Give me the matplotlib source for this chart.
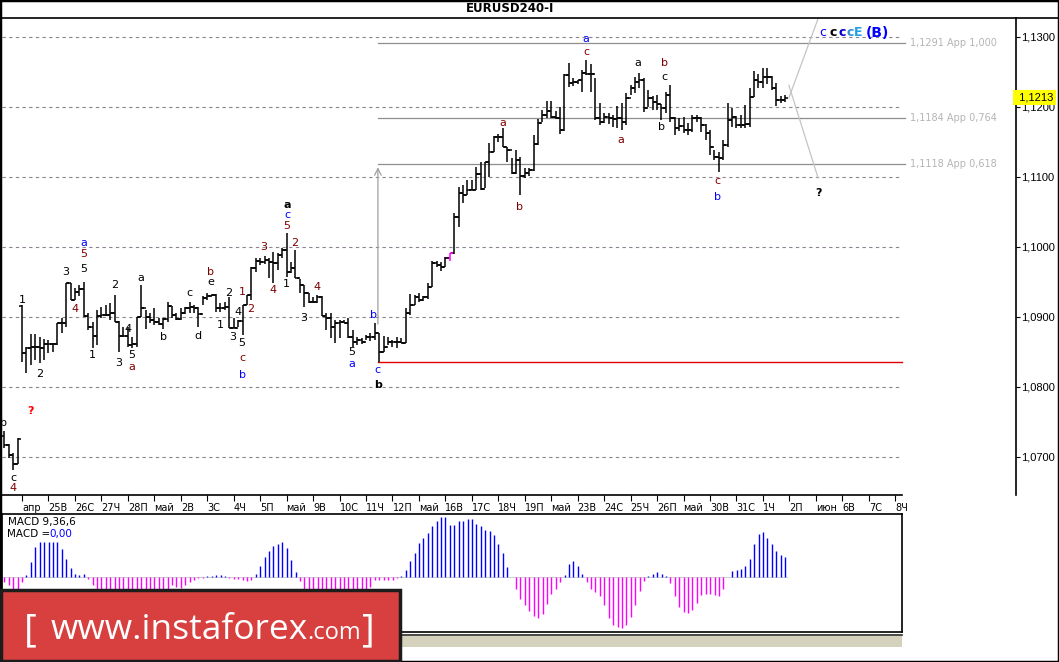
import numpy as np
import matplotlib.pyplot as plt
from matplotlib.patches import Rectangle
from matplotlib.lines import Line2D

# EURUSD H4 bars (high, low, close), left to right
highs = [1.0737, 1.0719, 1.0706, 1.0727, 1.0917, 1.0857, 1.0876, 1.0876, 1.0871, 1.0869,
         1.0867, 1.0863, 1.0891, 1.0899, 1.0949, 1.0949, 1.0941, 1.0946, 1.0950, 1.0906,
         1.0893, 1.0910, 1.0914, 1.0917, 1.0920, 1.0931, 1.0894, 1.0886, 1.0886, 1.0871,
         1.0900, 1.0946, 1.0910, 1.0906, 1.0913, 1.0899, 1.0899, 1.0921, 1.0916, 1.0906,
         1.0913, 1.0914, 1.0921, 1.0917, 1.0914, 1.0930, 1.0934, 1.0933, 1.0933, 1.0920,
         1.0921, 1.0929, 1.0899, 1.0896, 1.0917, 1.0931, 1.0971, 1.0984, 1.0984, 1.0987,
         1.0984, 1.0993, 1.0991, 1.0999, 1.1020, 1.0979, 1.0996, 1.0954, 1.0946, 1.0934,
         1.0929, 1.0931, 1.0930, 1.0906, 1.0906, 1.0896, 1.0896, 1.0896, 1.0899, 1.0881,
         1.0871, 1.0870, 1.0874, 1.0877, 1.0891, 1.0877, 1.0873, 1.0871, 1.0867, 1.0871,
         1.0870, 1.0913, 1.0933, 1.0931, 1.0934, 1.0930, 1.0949, 1.0980, 1.0980, 1.0979,
         1.0986, 1.0991, 1.1049, 1.1086, 1.1089, 1.1096, 1.1096, 1.1114, 1.1121, 1.1121,
         1.1149, 1.1159, 1.1161, 1.1170, 1.1143, 1.1127, 1.1139, 1.1129, 1.1113, 1.1113,
         1.1160, 1.1183, 1.1196, 1.1209, 1.1209, 1.1194, 1.1200, 1.1247, 1.1263, 1.1241,
         1.1239, 1.1253, 1.1267, 1.1261, 1.1241, 1.1206, 1.1191, 1.1191, 1.1189, 1.1201,
         1.1206, 1.1220, 1.1231, 1.1243, 1.1249, 1.1241, 1.1224, 1.1216, 1.1217, 1.1204,
         1.1221, 1.1231, 1.1186, 1.1184, 1.1186, 1.1177, 1.1189, 1.1189, 1.1186, 1.1176,
         1.1167, 1.1139, 1.1136, 1.1153, 1.1206, 1.1199, 1.1187, 1.1189, 1.1203, 1.1227,
         1.1251, 1.1247, 1.1256, 1.1256, 1.1244, 1.1234, 1.1216, 1.1217]
lows = [1.0713, 1.0699, 1.0681, 1.0690, 1.0836, 1.0820, 1.0831, 1.0839, 1.0834, 1.0839,
        1.0849, 1.0850, 1.0860, 1.0877, 1.0886, 1.0924, 1.0924, 1.0930, 1.0900, 1.0881,
        1.0856, 1.0860, 1.0899, 1.0901, 1.0896, 1.0893, 1.0850, 1.0871, 1.0857, 1.0856,
        1.0857, 1.0900, 1.0883, 1.0891, 1.0889, 1.0889, 1.0883, 1.0893, 1.0899, 1.0896,
        1.0896, 1.0904, 1.0906, 1.0906, 1.0886, 1.0917, 1.0924, 1.0930, 1.0907, 1.0907,
        1.0910, 1.0884, 1.0884, 1.0886, 1.0874, 1.0917, 1.0924, 1.0964, 1.0974, 1.0976,
        1.0956, 1.0949, 1.0967, 1.0984, 1.0957, 1.0963, 1.0956, 1.0934, 1.0914, 1.0920,
        1.0920, 1.0920, 1.0901, 1.0881, 1.0870, 1.0863, 1.0870, 1.0891, 1.0870, 1.0857,
        1.0860, 1.0861, 1.0867, 1.0866, 1.0867, 1.0836, 1.0850, 1.0860, 1.0857, 1.0856,
        1.0863, 1.0863, 1.0903, 1.0917, 1.0921, 1.0923, 1.0926, 1.0943, 1.0971, 1.0966,
        1.0971, 1.0980, 1.0990, 1.1029, 1.1063, 1.1074, 1.1081, 1.1081, 1.1081, 1.1084,
        1.1100, 1.1136, 1.1150, 1.1143, 1.1121, 1.1104, 1.1104, 1.1074, 1.1099, 1.1101,
        1.1109, 1.1146, 1.1179, 1.1184, 1.1184, 1.1183, 1.1161, 1.1166, 1.1229, 1.1230,
        1.1233, 1.1221, 1.1246, 1.1221, 1.1181, 1.1174, 1.1177, 1.1176, 1.1171, 1.1170,
        1.1167, 1.1174, 1.1217, 1.1220, 1.1227, 1.1193, 1.1200, 1.1196, 1.1196, 1.1181,
        1.1191, 1.1179, 1.1160, 1.1166, 1.1163, 1.1160, 1.1164, 1.1179, 1.1164, 1.1153,
        1.1131, 1.1124, 1.1107, 1.1124, 1.1143, 1.1171, 1.1170, 1.1170, 1.1170, 1.1171,
        1.1214, 1.1227, 1.1227, 1.1233, 1.1224, 1.1201, 1.1206, 1.1207]
closes = [1.0717, 1.0703, 1.0690, 1.0725, 1.0849, 1.0856, 1.0857, 1.0857, 1.0856, 1.0861,
          1.0861, 1.0861, 1.0891, 1.0891, 1.0949, 1.0924, 1.0936, 1.0940, 1.0901, 1.0886,
          1.0873, 1.0901, 1.0903, 1.0903, 1.0906, 1.0893, 1.0873, 1.0873, 1.0860, 1.0861,
          1.0900, 1.0913, 1.0900, 1.0896, 1.0893, 1.0890, 1.0897, 1.0916, 1.0903, 1.0897,
          1.0906, 1.0913, 1.0914, 1.0913, 1.0904, 1.0927, 1.0930, 1.0931, 1.0913, 1.0913,
          1.0914, 1.0884, 1.0884, 1.0894, 1.0917, 1.0931, 1.0970, 1.0980, 1.0979, 1.0981,
          1.0979, 1.0977, 1.0989, 1.0996, 1.0964, 1.0970, 1.0956, 1.0946, 1.0934, 1.0921,
          1.0921, 1.0929, 1.0901, 1.0899, 1.0886, 1.0891, 1.0893, 1.0891, 1.0871, 1.0864,
          1.0867, 1.0864, 1.0871, 1.0871, 1.0877, 1.0850, 1.0857, 1.0864, 1.0864, 1.0864,
          1.0863, 1.0906, 1.0917, 1.0929, 1.0924, 1.0929, 1.0943, 1.0977, 1.0974, 1.0971,
          1.0984, 1.0991, 1.1043, 1.1077, 1.1074, 1.1081, 1.1081, 1.1104, 1.1083, 1.1121,
          1.1136, 1.1157, 1.1157, 1.1143, 1.1139, 1.1106, 1.1124, 1.1101, 1.1106, 1.1110,
          1.1147, 1.1177, 1.1189, 1.1194, 1.1186, 1.1184, 1.1167, 1.1246, 1.1234, 1.1236,
          1.1239, 1.1249, 1.1247, 1.1247, 1.1184, 1.1179, 1.1186, 1.1184, 1.1183, 1.1184,
          1.1179, 1.1213, 1.1227, 1.1236, 1.1239, 1.1199, 1.1213, 1.1207, 1.1204, 1.1199,
          1.1217, 1.1184, 1.1170, 1.1173, 1.1167, 1.1167, 1.1184, 1.1184, 1.1174, 1.1163,
          1.1143, 1.1129, 1.1127, 1.1146, 1.1181, 1.1186, 1.1174, 1.1174, 1.1176, 1.1214,
          1.1239, 1.1236, 1.1243, 1.1243, 1.1227, 1.1210, 1.1210, 1.1213]
first_open = 1.0730
gap_bar = 4
gap_open = 1.0916
magenta_bar = 101

macd = [-0.0005, -0.0008, -0.0013, -0.0013, -0.0005, 0.0002, 0.0015, 0.0030, 0.0035, 0.0035,
        0.0035, 0.0035, 0.0035, 0.0028, 0.0018, 0.0009, 0.0003, 0.0002, 0.0003, -0.0002,
        -0.0008, -0.0020, -0.0025, -0.0028, -0.0030, -0.0030, -0.0028, -0.0027, -0.0026, -0.0024,
        -0.0022, -0.0020, -0.0018, -0.0017, -0.0016, -0.0016, -0.0015, -0.0014, -0.0008, -0.0010,
        -0.0011, -0.0008, -0.0005, -0.0003, -0.0001, -0.0001, 0.0001, 0.0001, 0.0002, 0.0002,
        0.0001, -0.0001, -0.0002, -0.0002, -0.0003, -0.0004, -0.0003, 0.0003, 0.0011, 0.0020,
        0.0026, 0.0031, 0.0033, 0.0035, 0.0029, 0.0017, 0.0005, -0.0004, -0.0015, -0.0020,
        -0.0024, -0.0026, -0.0027, -0.0027, -0.0027, -0.0028, -0.0029, -0.0029, -0.0028, -0.0026,
        -0.0024, -0.0021, -0.0017, -0.0010, -0.0003, -0.0003, -0.0003, -0.0003, -0.0003, -0.0001,
        0.0001, 0.0007, 0.0016, 0.0024, 0.0034, 0.0039, 0.0044, 0.0051, 0.0056, 0.0060,
        0.0060, 0.0052, 0.0052, 0.0056, 0.0056, 0.0058, 0.0058, 0.0053, 0.0051, 0.0047,
        0.0046, 0.0042, 0.0033, 0.0024, 0.0010, 0.0000, -0.0012, -0.0022, -0.0028, -0.0034,
        -0.0039, -0.0041, -0.0037, -0.0027, -0.0017, -0.0012, -0.0005, 0.0002, 0.0013, 0.0016,
        0.0011, 0.0003, -0.0005, -0.0012, -0.0015, -0.0019, -0.0028, -0.0041, -0.0048, -0.0050,
        -0.0051, -0.0048, -0.0040, -0.0028, -0.0014, -0.0004, 0.0001, 0.0003, 0.0005, 0.0003,
        0.0001, -0.0006, -0.0019, -0.0030, -0.0035, -0.0036, -0.0033, -0.0026, -0.0018, -0.0017,
        -0.0017, -0.0018, -0.0019, -0.0012, 0.0000, 0.0006, 0.0007, 0.0008, 0.0011, 0.0018,
        0.0033, 0.0043, 0.0045, 0.0039, 0.0033, 0.0026, 0.0022, 0.0020]

date_labels = ['апр', '25В', '26С', '27Ч', '28П', 'май', '2В', '3С', '4Ч', '5П', 'май', '9В',
               '10С', '11Ч', '12П', 'май', '16В', '17С', '18Ч', '19П', 'май', '23В', '24С',
               '25Ч', '26П', 'май', '30В', '31С', '1Ч', '2П', 'июн', '6В', '7С', '8Ч']
price_ticks = [1.07, 1.08, 1.09, 1.10, 1.11, 1.12, 1.13]

fib_levels = [1.1291, 1.1184, 1.1118]
fib_labels = ['1,1291 App 1,000', '1,1184 App 0,764', '1,1118 App 0,618']
fib_start = 84.7
support_level = 1.0836
arrow_from = 1.0886
last_price = 1.1213
proj_x = [177.9, 184.5]
proj_up = [1.1213, 1.1326]
proj_down = [1.1231, 1.1099]

# wave marks: text, bar position, price, colour, bold
BLK, BLU, MAR = 'black', '#0000ff', '#800000'
waves = [
    ('b', -0.1, 1.0749, BLK, False), ('c', 2.0, 1.0670, BLK, False), ('4', 2.0, 1.0656, MAR, False),
    ('?', 6.0, 1.0766, '#ff0000', True),
    ('1', 4.0, 1.0924, BLK, False), ('2', 8.1, 1.0818, BLK, False), ('3', 14.0, 1.0964, BLK, False),
    ('4', 16.0, 1.0911, MAR, False), ('a', 18.0, 1.1006, BLU, False), ('5', 18.0, 1.0990, MAR, False),
    ('5', 18.0, 1.0969, BLK, False), ('1', 19.9, 1.0846, BLK, False), ('2', 24.9, 1.0946, BLK, False),
    ('3', 26.0, 1.0834, BLK, False), ('4', 28.0, 1.0883, BLK, False), ('5', 28.9, 1.0846, BLK, False),
    ('a', 28.9, 1.0829, MAR, False), ('a', 31.0, 1.0956, BLK, False), ('b', 36.0, 1.0871, BLK, False),
    ('c', 41.9, 1.0934, BLK, False), ('d', 43.9, 1.0873, BLK, False), ('b', 46.8, 1.0964, MAR, False),
    ('e', 46.8, 1.0950, BLK, False), ('1', 48.9, 1.0889, BLK, False), ('2', 50.9, 1.0934, BLK, False),
    ('3', 51.8, 1.0871, BLK, False), ('4', 53.0, 1.0907, BLK, False), ('1', 53.9, 1.0936, MAR, False),
    ('5', 53.9, 1.0863, BLK, False), ('c', 53.9, 1.0841, MAR, False), ('b', 53.9, 1.0817, BLU, False),
    ('2', 55.9, 1.0911, MAR, False), ('3', 58.9, 1.1000, MAR, False), ('4', 60.9, 1.0939, MAR, False),
    ('1', 63.9, 1.0947, BLK, False), ('a', 64.1, 1.1060, BLK, True), ('c', 64.1, 1.1046, BLU, False),
    ('5', 64.1, 1.1030, MAR, False), ('2', 65.9, 1.1006, MAR, False), ('3', 67.9, 1.0899, BLK, False),
    ('4', 70.9, 1.0943, MAR, False), ('5', 78.8, 1.0850, BLK, False), ('a', 78.8, 1.0833, BLU, False),
    ('b', 83.8, 1.0903, BLU, False), ('c', 84.7, 1.0824, BLU, False), ('b', 84.7, 1.0803, BLK, True),
    ('a', 113.1, 1.1177, MAR, False), ('b', 116.7, 1.1057, MAR, False), ('a', 131.9, 1.1297, BLU, False),
    ('c', 131.9, 1.1279, MAR, False), ('a', 139.8, 1.1153, MAR, False), ('a', 143.7, 1.1263, BLK, False),
    ('b', 149.6, 1.1263, MAR, False), ('c', 149.6, 1.1243, BLK, False), ('b', 148.9, 1.1171, BLK, False),
    ('c', 161.6, 1.1094, MAR, False), ('b', 161.6, 1.1071, BLU, False), ('?', 184.5, 1.1077, BLK, True),
]
target_marks = [('c', 185.6, BLU, 'normal'), ('c', 187.9, BLK, 'bold'), ('c', 189.9, '#0000cc', 'bold'),
                ('c', 191.7, '#2f8fcf', 'bold'), ('E', 193.7, '#1ea0e6', 'bold')]
target_price = 1.1306


def fx(px):
    return px / 1059


def fy(py):
    return 1 - py / 662


fig = plt.figure(figsize=(10.59, 6.62), dpi=100)

# ---- price chart
ax = fig.add_axes([fx(2), fy(495), fx(1016) - fx(2), fy(18) - fy(495)])
ax.set_xlim(-0.544, 229.4)
ax.set_ylim(1.064571, 1.132714)
grid_end = 203.5

for p in price_ticks:
    ax.plot([-0.544, grid_end], [p, p], color='#8c8290', lw=0.8, ls=(0, (3, 3)), zorder=1)

n = len(closes)
x = np.arange(n)
opens = [first_open] + closes[:-1]
opens[gap_bar] = gap_open
colors = ['black'] * n
colors[magenta_bar] = '#ff00ff'
ax.vlines(x, lows, highs, colors=colors, lw=1.1, zorder=3)
ax.hlines(opens, x - 0.75, x, colors=colors, lw=1.1, zorder=3)
ax.hlines(closes, x, x + 0.75, colors=colors, lw=1.1, zorder=3)

for lvl, lab in zip(fib_levels, fib_labels):
    ax.plot([fib_start, 204.2], [lvl, lvl], color='#8e8e8e', lw=0.9, zorder=2)
    ax.text(205.3, lvl, lab, color='#b4b4b4', fontsize=7, va='center', ha='left')
ax.plot([fib_start, grid_end], [support_level, support_level], color='#e00000', lw=1.0, zorder=2)
ax.annotate('', xy=(fib_start, fib_levels[2]), xytext=(fib_start, arrow_from),
            arrowprops=dict(arrowstyle='->', color='#a0a0a0', lw=0.9, mutation_scale=12))
ax.plot(proj_x, proj_up, color='#c4c4c4', lw=0.9)
ax.plot(proj_x, proj_down, color='#c4c4c4', lw=0.9)

for t, xi, p, c, b in waves:
    ax.text(xi, p, t, color=c, fontsize=8, ha='center', va='center',
            fontweight='bold' if b else 'normal')
for t, xi, c, w in target_marks:
    ax.text(xi, target_price, t, color=c, fontsize=9, ha='center', va='center', fontweight=w)
ax.text(195.4, target_price, '(B)', color=BLU, fontsize=10, ha='left', va='center',
        fontweight='bold')

for s in ['top', 'left']:
    ax.spines[s].set_visible(False)
ax.spines['bottom'].set_bounds(-0.544, grid_end)
ax.spines['right'].set_linewidth(1.2)
ax.spines['bottom'].set_linewidth(1.2)

ax.set_xticks(4 + 6 * np.arange(len(date_labels)))
ax.set_xticklabels(date_labels, fontsize=7)
plt.setp(ax.get_xticklabels(), ha='left')
ax.tick_params(axis='x', direction='out', length=4, pad=2, width=0.8)
ax.yaxis.tick_right()
ax.set_yticks(price_ticks)
ax.set_yticklabels([('%.4f' % p).replace('.', ',') for p in price_ticks],
                   fontsize=8, family='Liberation Sans')
ax.tick_params(axis='y', direction='out', length=3, pad=1, width=0.8)
ax.text(1.0, last_price, ' 1,1213', transform=ax.get_yaxis_transform(), ha='left', va='center',
        fontsize=8, family='Liberation Sans',
        bbox=dict(facecolor='#ffff00', edgecolor='none', pad=1.8), zorder=5)

# ---- MACD panel
ax2 = fig.add_axes([fx(2), fy(632), fx(902) - fx(2), fy(514) - fy(632)])
ax2.set_xlim(-0.544, grid_end)
ax2.set_ylim(-0.00553, 0.00627)
mcol = ['#0000ff' if v > 0 else '#ff00ff' for v in macd]
ax2.vlines(np.arange(len(macd)), 0, macd, colors=mcol, lw=1.0)
ax2.plot([-0.5, len(macd) - 0.5], [0, 0], color='#c8c8c8', lw=0.6, zorder=0)
ax2.set_xticks([])
ax2.set_yticks([])
for s in ax2.spines.values():
    s.set_linewidth(1.2)
fig.text(fx(8), fy(522), 'MACD 9,36,6', fontsize=7.5, va='center')
fig.text(fx(7), fy(534), 'MACD =', fontsize=7.5, va='center')
fig.text(fx(49), fy(534), '0,00', fontsize=7.5, va='center', color='#0000ff')

# hatched strip under the indicator
fig.add_artist(Rectangle((fx(400), fy(647)), fx(902) - fx(400), fy(634) - fy(647),
                         transform=fig.transFigure, facecolor='#d4d2bc', edgecolor='none'))
fig.add_artist(Line2D([fx(2), fx(902)], [fy(634.5), fy(634.5)], color='#333333', lw=1.2))

# ---- title bar and frame
fig.add_artist(Line2D([0, 1], [fy(18), fy(18)], color='black', lw=1.2))
fig.text(fx(510), fy(9), 'EURUSD240-I', fontsize=8.5, fontweight='bold', ha='center', va='center')
fig.add_artist(Rectangle((0, 0), 1, 1, transform=fig.transFigure, fill=False,
                         edgecolor='black', lw=2.5))

# ---- logo
fig.add_artist(Rectangle((fx(1), fy(661)), fx(400) - fx(1), fy(590) - fy(661),
                         transform=fig.transFigure, facecolor='#d7403f', edgecolor='#1c1c1c',
                         lw=2.5, zorder=10))
fig.text(fx(24), fy(641), '[', fontsize=28, color='white', ha='left', va='baseline',
         family='Open Sans', zorder=11)
fig.text(fx(51), fy(639), 'www.instaforex', fontsize=25.5, color='white', ha='left',
         va='baseline', family='Open Sans', zorder=11)
fig.text(fx(307), fy(639), '.com', fontsize=17, color='white', ha='left', va='baseline',
         family='Open Sans', zorder=11)
fig.text(fx(362), fy(641), ']', fontsize=28, color='white', ha='left', va='baseline',
         family='Open Sans', zorder=11)

fig.savefig('out.png', dpi=100)
